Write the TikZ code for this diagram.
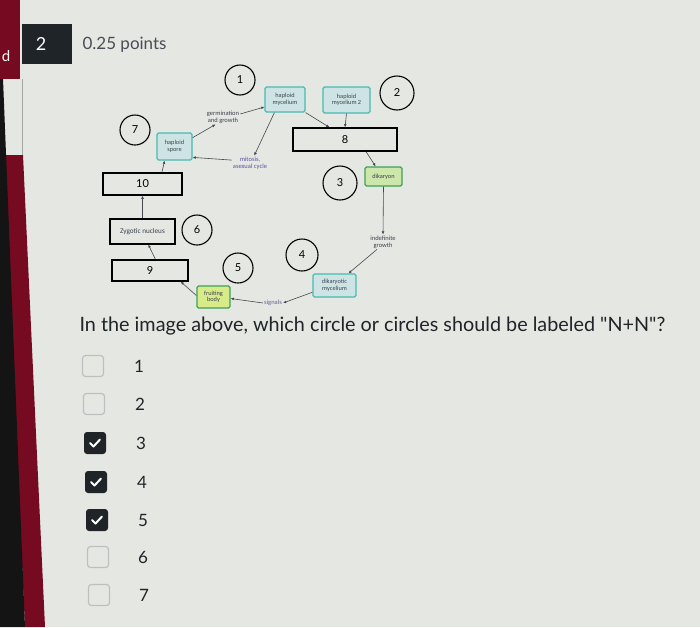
\documentclass[tikz,border=0pt]{standalone}
\usepackage{fontspec}
\setmainfont{Lato}[Ligatures=TeXOff]
\newfontfamily\diagfont{Carlito}
\usepackage{tikz}
\usetikzlibrary{arrows.meta}
\definecolor{pagebg}{RGB}{229,231,226}
\definecolor{stripred}{RGB}{118,10,32}
\definecolor{qdark}{RGB}{31,36,41}
\definecolor{ptsgray}{RGB}{72,78,88}
\definecolor{tealbd}{RGB}{72,186,178}
\definecolor{tealbg}{RGB}{206,228,228}
\definecolor{greenbd}{RGB}{64,160,92}
\definecolor{greenbg}{RGB}{205,230,170}
\definecolor{labtext}{RGB}{60,66,80}
\definecolor{mitotext}{RGB}{92,82,168}
\definecolor{arrgray}{RGB}{70,72,80}
\definecolor{boxgray}{RGB}{188,192,192}

\begin{document}
\begin{tikzpicture}[x=1pt, y=-1pt,
  circ/.style={circle, draw=black, line width=1.1pt, inner sep=0pt, font=\fontsize{11}{11}\selectfont},
  numbox/.style={draw=black, line width=1.3pt, inner sep=0pt, font=\fontsize{11}{11}\selectfont},
  hapbox/.style={draw=tealbd, fill=tealbg, line width=1.2pt, rounded corners=1.5pt, inner sep=0pt, align=center, text=labtext, font=\diagfont\fontsize{6.3}{6.6}\selectfont},
  dikbox/.style={hapbox, draw=greenbd, fill=greenbg},
  steplabel/.style={align=center, inner sep=1pt, text=labtext, font=\diagfont\fontsize{6.5}{6.8}\selectfont},
  arr/.style={-{Latex[length=3.2pt,width=2.8pt]}, draw=arrgray, line width=0.6pt},
  chkoff/.style={draw=boxgray, line width=1.2pt, rounded corners=3pt, minimum size=21pt, inner sep=0pt},
  chkon/.style={fill=qdark, rounded corners=3pt, minimum size=22pt, inner sep=0pt},
  tick/.style={draw=white, line width=2pt, line cap=round, line join=round},
  optnum/.style={text=qdark, font=\fontsize{17}{17}\selectfont}]
\useasboundingbox (0,0) rectangle (700,627);
\fill[pagebg] (0,0) rectangle (700,627);

\fill[stripred] (0,0) rectangle (20,79);
\fill[stripred] (3,155) -- (23,155) -- (45,627) -- (25,627) -- cycle;
\fill[black!92] (0,79) -- (3,79) -- (25,627) -- (0,627) -- cycle;
\draw[gray!70, line width=0.6pt] (22,79) -- (22,155);
\node[text=white!85!pink, font=\fontsize{15}{15}\selectfont] (tab) at (6,56) {d};

\fill[qdark] (22,24) rectangle (72,64);
\node[text=white, font=\fontsize{18}{18}\selectfont] (qnum) at (41,44) {2};
\node[anchor=west, text=ptsgray, font=\fontsize{17}{17}\selectfont] (pts) at (79,45) {0.25 points};

\node[circ, minimum size=30pt] (c1) at (240,80)  {1};
\node[circ, minimum size=34pt] (c2) at (397,93)  {2};
\node[circ, minimum size=34pt] (c3) at (340,183) {3};
\node[circ, minimum size=32pt] (c4) at (302,255) {4};
\node[circ, minimum size=30pt] (c5) at (238,268) {5};
\node[circ, minimum size=30pt] (c6) at (197,230) {6};
\node[circ, minimum size=30pt] (c7) at (135,130) {7};

\node[hapbox, minimum width=40pt, minimum height=25pt] (hmyc)  at (285,99.5)  {haploid\\mycelium};
\node[hapbox, minimum width=47pt, minimum height=26pt] (hmyc2) at (346.5,100) {haploid\\mycelium 2};
\node[hapbox, minimum width=35pt, minimum height=27pt] (spore) at (174.5,146.5) {haploid\\spore};
\node[dikbox, minimum width=37pt, minimum height=19pt] (dik)   at (383.5,176.5) {dikaryon};
\node[hapbox, minimum width=43pt, minimum height=23pt] (dmyc)  at (334.5,285.5) {dikaryotic\\mycelium};
\node[dikbox, fill=greenbg!80!yellow, minimum width=33pt, minimum height=22pt] (fruit) at (213.5,297) {fruiting\\body};

\node[numbox, minimum width=104pt, minimum height=23pt] (box8)  at (345,139.5) {8};
\node[numbox, minimum width=79pt,  minimum height=22pt] (box10) at (142.5,184) {10};
\node[numbox, minimum width=76pt,  minimum height=21pt] (box9)  at (150,270.5) {9};
\node[numbox, line width=1.1pt, minimum width=65pt, minimum height=25pt, font=\diagfont\fontsize{7.2}{7.5}\selectfont, text=labtext] (zyg) at (142.5,231.5) {Zygotic nucleus};

\node[steplabel] (germ)    at (223,117) {germination\\and growth};
\node[steplabel, text=mitotext] (mitosis) at (250,163) {mitosis,\\asexual cycle};
\node[steplabel] (indef)   at (383,242) {indefinite\\growth};
\node[steplabel, text=mitotext!70!gray] (signals) at (273,303) {signals};

\draw[arr] (spore.26) -- (germ.225);
\draw[arr] (germ.10) -- (hmyc.200);
\draw[arr] (hmyc.231) -- (mitosis.60);
\draw[arr] (mitosis.171) -- (spore.-31);
\draw[arr] (hmyc.south east) -- (box8.142);
\draw[arr] (hmyc2.south) -- (box8.north);
\draw[arr] (box8.-30) -- (dik.128);
\draw[arr] (dik.south) -- (indef.north);
\draw[arr] (indef.231) -- (dmyc.41);
\draw[arr] (dmyc.197) -- (signals.east);
\draw[arr] (signals.west) -- (fruit.-5);
\draw[arr] (fruit.175) -- (box9.-20);
\draw[arr] (box9.64) -- (zyg.-66);
\draw[arr] (zyg.north) -- (box10.south);
\draw[arr] (box10.31) -- (spore.235);

\node[anchor=west, text=qdark, font=\fontsize{19.8}{20}\selectfont] (quest) at (76,326) {In the image above, which circle or circles should be labeled "N+N"?};

\node[chkoff] (b1) at (93,366) {};
\node[chkoff] (b2) at (94,404) {};
\node[chkon]  (b3) at (95,443) {};
\node[chkon]  (b4) at (96,482) {};
\node[chkon]  (b5) at (97,520) {};
\node[chkoff] (b6) at (98,557) {};
\node[chkoff] (b7) at (99,595) {};
\draw[tick] ([shift={(-5,0)}]b3.center) -- ++(3.5,3.5) -- ++(6.5,-7);
\draw[tick] ([shift={(-5,0)}]b4.center) -- ++(3.5,3.5) -- ++(6.5,-7);
\draw[tick] ([shift={(-5,0)}]b5.center) -- ++(3.5,3.5) -- ++(6.5,-7);
\node[optnum] (o1) at (139,366) {1};
\node[optnum] (o2) at (140,404) {2};
\node[optnum] (o3) at (141,443) {3};
\node[optnum] (o4) at (142,482) {4};
\node[optnum] (o5) at (143,520) {5};
\node[optnum] (o6) at (143,557) {6};
\node[optnum] (o7) at (144,595) {7};
\end{tikzpicture}
\end{document}
